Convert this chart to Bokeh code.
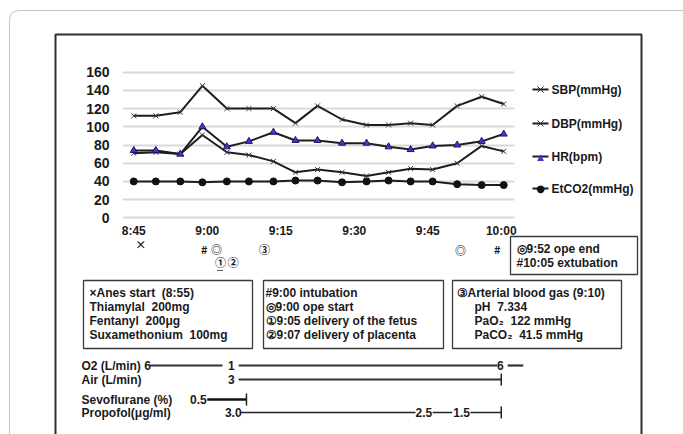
from bokeh.plotting import figure
from bokeh.models import Range1d, FixedTicker
from bokeh.embed import file_html
from bokeh.resources import INLINE
from bokeh.core.properties import value

# ---------------- data ----------------
# sample times, minutes after 8:45
times = [0, 4.5, 9.5, 14, 19, 23.5, 28.5, 33, 37.5, 42.5, 47.5, 52, 56.5, 61, 66, 71, 75.5]
sbp = [112, 112, 116, 145, 120, 120, 120, 104, 123, 108, 102, 102, 104, 102, 123, 133, 125]
dbp = [71, 72, 70, 91, 72, 69, 62, 50, 53, 50, 46, 50, 54, 53, 60, 79, 73]
hr = [74, 74, 70, 100, 78, 84, 94, 85, 85, 82, 82, 78, 75, 79, 80, 84, 92]
etco2 = [40, 40, 40, 39, 40, 40, 40, 41, 41, 39, 40, 41, 40, 40, 37, 36, 36]
series_names = ["SBP(mmHg)", "DBP(mmHg)", "HR(bpm)", "EtCO2(mmHg)"]

x_tick_vals = [0, 15, 30, 45, 60, 75]
x_tick_labels = ["8:45", "9:00", "9:15", "9:30", "9:45", "10:00"]
y_tick_vals = [0, 20, 40, 60, 80, 100, 120, 140, 160]

# event marks under the time axis (minutes after 8:45)
event_marks = ["×", "#", "◎", "③", "①", "②", "◎", "#"]
event_t = [1.4, 14.4, 16.9, 26.7, 17.7, 20.3, 66.7, 74.2]
event_row = [243, 248, 248, 248, 261, 261, 249, 248]

NB = "\u00a0"
box1_lines = ["×Anes start" + NB * 2 + "(8:55)", "Thiamylal" + NB * 2 + "200mg",
              "Fentanyl" + NB * 2 + "200μg", "Suxamethonium" + NB * 2 + "100mg"]
box2_lines = ["#9:00 intubation", "◎9:00 ope start", "①9:05 delivery of the fetus", "②9:07 delivery of placenta"]
box3_lines = ["③Arterial blood gas (9:10)", "pH" + NB * 2 + "7.334", "PaO₂" + NB * 2 + "122 mmHg",
              "PaCO₂" + NB * 2 + "41.5 mmHg"]
box4_lines = ["◎9:52 ope end", "#10:05 extubation"]

# drug / gas timelines (minutes after 8:45)
row_names = ["O2 (L/min) 6", "Air (L/min)", "Sevoflurane (%)", "Propofol(μg/ml)"]
o2_vals = ["1", "6"]
o2_val_t = [19.9, 74.8]
o2_seg_start = [3.2, 21.4, 76.3]
o2_seg_end = [18.1, 74.2, 79.5]
air_vals = ["3"]
air_val_t = [19.9]
air_seg_start = [21.4]
air_seg_end = [75.0]
sevo_vals = ["0.5"]
sevo_val_t = [13.2]
sevo_seg_start = [15.0]
sevo_seg_end = [23.0]
prop_vals = ["3.0", "2.5", "1.5"]
prop_val_t = [20.3, 59.2, 66.9]
prop_seg_start = [21.8, 61.0, 68.7]
prop_seg_end = [57.5, 65.0, 75.0]

# ---------------- figure ----------------
W, H = 683, 434
p = figure(width=W, height=H, output_backend="svg", toolbar_location=None,
           x_range=Range1d(-2.3, 77.7), y_range=Range1d(-4, 164),
           min_border_left=122, min_border_right=169, min_border_top=68, min_border_bottom=213)
p.background_fill_color = "white"
p.border_fill_color = "white"
p.outline_line_color = None

# page-pixel ranges for decorations (frame spans page x 122..514, y 68..221)
p.extra_x_ranges = {"px": Range1d(122, 514)}
p.extra_y_ranges = {"py": Range1d(221, 68)}

FONT = value("Liberation Sans")

p.xgrid.grid_line_color = None
p.ygrid.grid_line_color = "#d9d9d9"
p.ygrid.grid_line_width = 2
p.yaxis.ticker = FixedTicker(ticks=y_tick_vals)
p.xaxis.ticker = FixedTicker(ticks=x_tick_vals)
p.xaxis.major_label_overrides = {v: l for v, l in zip(x_tick_vals, x_tick_labels)}
for ax in (p.xaxis[0], p.yaxis[0]):
    ax.axis_line_color = None
    ax.major_tick_line_color = None
    ax.minor_tick_line_color = None
    ax.major_tick_in = 0
    ax.major_tick_out = 0
    ax.major_label_text_font = "Liberation Sans"
    ax.major_label_text_font_style = "bold"
    ax.major_label_text_color = "#1a1a1a"
p.yaxis.major_label_text_font_size = "14px"
p.yaxis.major_label_standoff = 13
p.xaxis.major_label_text_font_size = "12px"
p.xaxis.major_label_standoff = 2

LC = "#1e1e1e"
XC = "#333333"
TRI_FILL, TRI_LINE = "#3a3ad0", "#1a1a60"
styles = [
    dict(marker="x", size=7, line_color=XC, line_width=1),
    dict(marker="x", size=7, line_color=XC, line_width=1),
    dict(marker="triangle", size=7, fill_color=TRI_FILL, line_color=TRI_LINE, line_width=1),
    dict(marker="circle", size=7, fill_color="#111111", line_color="#111111"),
]
for vals, st in zip([sbp, dbp, hr, etco2], styles):
    p.line(times, vals, line_color=LC, line_width=2)
    p.scatter(times, vals, **st)

OV = dict(level="overlay")
PX = dict(x_range_name="px", y_range_name="py", level="overlay")
TXT = dict(text_font=FONT, text_font_size="12px", text_font_style="bold",
           text_color="#1a1a1a", text_baseline="middle")

# legend (drawn at the right of the plot area; markers drawn as shapes / symbols)
leg_y = [89, 123, 156, 188]
gx = 540
p.segment(x0=[532] * 4, y0=leg_y, x1=[548] * 4, y1=leg_y, line_color=LC, line_width=2, **PX)
for yy in leg_y[:2]:
    p.segment(x0=[gx - 3, gx - 3], y0=[yy - 3, yy + 3], x1=[gx + 3, gx + 3], y1=[yy + 3, yy - 3],
              line_color=XC, line_width=1, **PX)
p.text(x=[gx], y=[leg_y[2]], text=["▲"], text_align="center", text_baseline="middle",
       text_font=value("DejaVu Sans"), text_font_size="9px", text_color=TRI_FILL, **PX)
p.text(x=[gx], y=[leg_y[3]], text=["●"], text_align="center", text_baseline="middle",
       text_font=value("DejaVu Sans"), text_font_size="10px", text_color="#111111", **PX)
p.text(x=[551] * 4, y=leg_y, text=series_names, text_align="left", **TXT, **PX)

# outer rounded border and inner black frame
p.multi_line(xs=[[9, 9], [19, 700]], ys=[[20, 440], [10, 10]], line_color="#c4c4c4", line_width=1, **PX)
p.quadratic(x0=[9], y0=[20], x1=[19], y1=[10], cx=[9], cy=[10], line_color="#c4c4c4", line_width=1, **PX)
p.multi_line(xs=[[55, 55, 641, 641]], ys=[[440, 34, 34, 440]], line_color="#2e2e2e", line_width=2, **PX)

# event marks under the axis
EV = dict(TXT)
EV["text_font"] = value("Noto Sans CJK JP")
EV["text_font_size"] = "11px"
p.text(x=event_t, y=event_row, text=event_marks, text_align="center",
       y_range_name="py", **EV, **OV)
p.segment(x0=[17.0], y0=[270], x1=[18.2], y1=[270], line_color="#555555", line_width=1, y_range_name="py", **OV)

# boxes
p.quad(left=[83, 263, 452, 510], right=[252, 443, 621, 637], top=[280, 280, 280, 236],
       bottom=[348, 348, 348, 274], fill_color=None, line_color="#3a3a3a", line_width=1.3, **PX)
rows_y = [292, 306, 320, 334]
p.text(x=[89] * 4, y=rows_y, text=box1_lines, text_align="left", **TXT, **PX)
p.text(x=[265] * 4, y=rows_y, text=box2_lines, text_align="left", **TXT, **PX)
p.text(x=[456, 474, 474, 474], y=rows_y, text=box3_lines, text_align="left", **TXT, **PX)
p.text(x=[516, 516], y=[248, 262], text=box4_lines, text_align="left", **TXT, **PX)

# timelines
p.text(x=[81] * 4, y=[365, 379, 399, 412], text=row_names, text_align="left", **TXT, **PX)
p.text(x=o2_val_t, y=[365] * len(o2_vals), text=o2_vals, text_align="center", y_range_name="py", **TXT, **OV)
p.text(x=air_val_t, y=[379] * len(air_vals), text=air_vals, text_align="center", y_range_name="py", **TXT, **OV)
p.text(x=sevo_val_t, y=[399] * len(sevo_vals), text=sevo_vals, text_align="center", y_range_name="py", **TXT, **OV)
p.text(x=prop_val_t, y=[412] * len(prop_vals), text=prop_vals, text_align="center", y_range_name="py", **TXT, **OV)

p.segment(x0=o2_seg_start, x1=o2_seg_end, y0=[365] * 3, y1=[365] * 3, line_color="#333333", line_width=2.2, y_range_name="py", **OV)
p.segment(x0=air_seg_start, x1=air_seg_end, y0=[379], y1=[379], line_color="#333333", line_width=2.2, y_range_name="py", **OV)
p.segment(x0=sevo_seg_start, x1=sevo_seg_end, y0=[399], y1=[399], line_color="#111111", line_width=2.5, y_range_name="py", **OV)
p.segment(x0=prop_seg_start, x1=prop_seg_end, y0=[412] * 3, y1=[412] * 3, line_color="#222222", line_width=1.5, y_range_name="py", **OV)
# end ticks
p.segment(x0=[air_seg_end[-1], sevo_seg_end[-1], prop_seg_end[-1]],
          x1=[air_seg_end[-1], sevo_seg_end[-1], prop_seg_end[-1]],
          y0=[373, 393, 406], y1=[385, 405, 418], line_color="#222222", line_width=1.5,
          y_range_name="py", **OV)

open("out.html", "w").write(file_html(p, INLINE))
